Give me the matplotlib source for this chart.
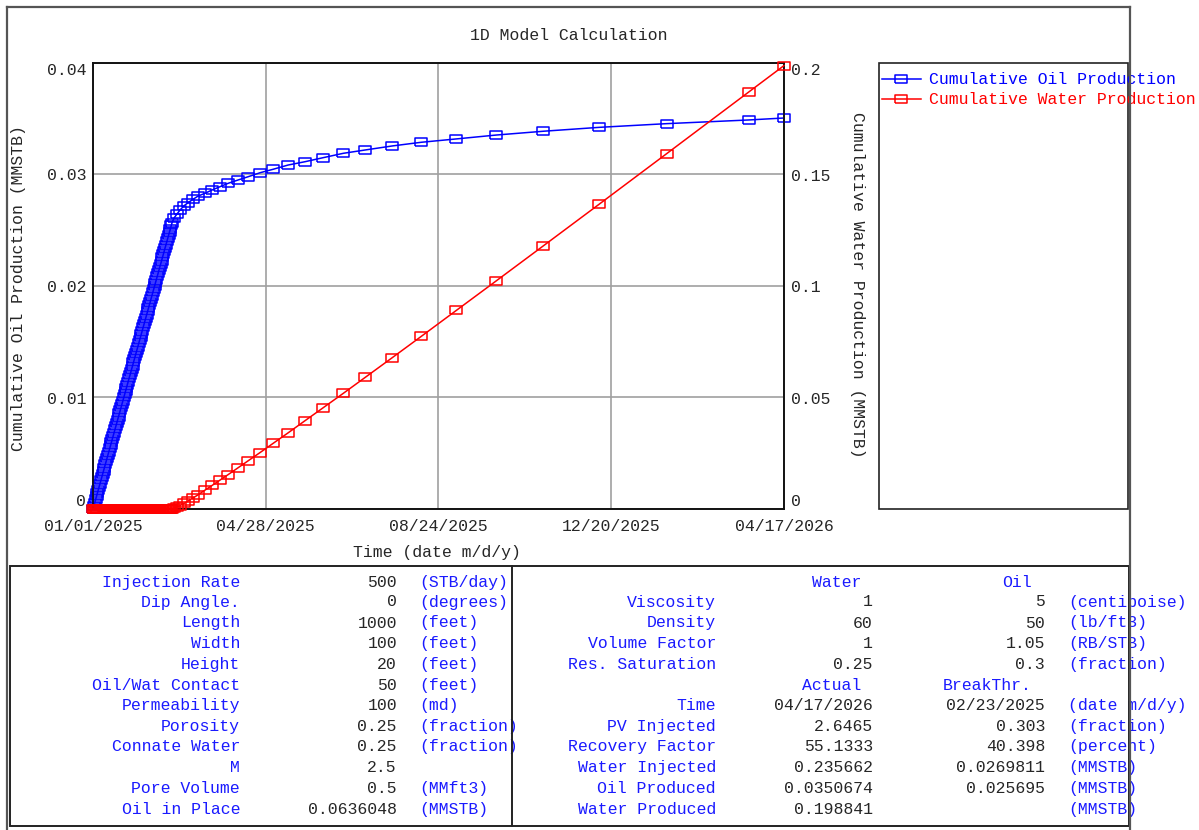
import matplotlib
matplotlib.use('Agg')
import matplotlib.pyplot as plt
from matplotlib.patches import Rectangle
from matplotlib.lines import Line2D

# ---------------- data ----------------
days_pre = [0, 0.6, 1.2, 1.8, 2.4, 3.0, 3.6, 4.2, 4.8, 5.4,
            6.0, 6.6, 7.2, 7.8, 8.4, 9.0, 9.6, 10.2, 10.8, 11.4,
            12.0, 12.6, 13.2, 13.8, 14.4, 15.0, 15.6, 16.2, 16.8, 17.4,
            18.0, 18.6, 19.2, 19.8, 20.4, 21.0, 21.6, 22.2, 22.8, 23.4,
            24.0, 24.6, 25.2, 25.8, 26.4, 27.0, 27.6, 28.2, 28.8, 29.4,
            30.0, 30.6, 31.2, 31.8, 32.4, 33.0, 33.6, 34.2, 34.8, 35.4,
            36.0, 36.6, 37.2, 37.8, 38.4, 39.0, 39.6, 40.2, 40.8, 41.4,
            42.0, 42.6, 43.2, 43.8, 44.4, 45.0, 45.6, 46.2, 46.8, 47.4,
            48.0, 48.6, 49.2, 49.8, 50.4, 51.0, 51.6, 52.2, 52.8, 53.4]
oil_pre = [0, 0.000286, 0.000571, 0.000857, 0.001143, 0.001429, 0.001714, 0.002, 0.002286, 0.002571,
           0.002857, 0.003143, 0.003429, 0.003714, 0.004, 0.004286, 0.004571, 0.004857, 0.005143, 0.005429,
           0.005714, 0.006, 0.006286, 0.006571, 0.006857, 0.007143, 0.007429, 0.007714, 0.008, 0.008286,
           0.008571, 0.008857, 0.009143, 0.009429, 0.009714, 0.01, 0.010286, 0.010571, 0.010857, 0.011143,
           0.011429, 0.011714, 0.012, 0.012286, 0.012571, 0.012857, 0.013143, 0.013429, 0.013714, 0.014,
           0.014286, 0.014571, 0.014857, 0.015143, 0.015429, 0.015714, 0.016, 0.016286, 0.016571, 0.016857,
           0.017143, 0.017429, 0.017714, 0.018, 0.018286, 0.018571, 0.018857, 0.019143, 0.019429, 0.019714,
           0.02, 0.020286, 0.020571, 0.020857, 0.021143, 0.021429, 0.021714, 0.022, 0.022286, 0.022571,
           0.022857, 0.023143, 0.023429, 0.023714, 0.024, 0.024286, 0.024571, 0.024857, 0.025143, 0.025429]
water_pre = [0, 0, 0, 0, 0, 0, 0, 0, 0, 0,
             0, 0, 0, 0, 0, 0, 0, 0, 0, 0,
             0, 0, 0, 0, 0, 0, 0, 0, 0, 0,
             0, 0, 0, 0, 0, 0, 0, 0, 0, 0,
             0, 0, 0, 0, 0, 0, 0, 0, 0, 0,
             0, 0, 0, 0, 0, 0, 0, 0, 0, 0,
             0, 0, 0, 0, 0, 0, 0, 0, 0, 0,
             0, 0, 0, 0, 0, 0, 0, 0, 0, 0,
             0, 0, 0, 0, 0, 0, 0, 0, 0, 0]

days_post = [53.96, 55.3, 57.3, 59.4, 62.1, 64.8, 68.3, 71.7, 76.5, 81.2,
             86.7, 92.2, 99.0, 105.8, 114.0, 122.9, 133.1, 144.7, 157.0, 170.7,
             185.7, 204.1, 223.9, 247.8, 275.1, 307.2, 345.4, 391.2, 447.1, 471.3]
oil_post = [0.025695, 0.02610, 0.02646, 0.02682, 0.02720, 0.02747, 0.02778, 0.02807, 0.02832, 0.02861,
            0.02891, 0.02921, 0.02951, 0.02980, 0.03016, 0.03047, 0.03085, 0.03115, 0.03151, 0.03190,
            0.03220, 0.03256, 0.03289, 0.03319, 0.03354, 0.03388, 0.03423, 0.03456, 0.03489, 0.035067]
water_post = [0.0, 0.000245, 0.000867, 0.001539, 0.00249, 0.003556, 0.004981, 0.006376, 0.008514, 0.010559,
              0.012994, 0.015429, 0.018514, 0.02161, 0.025332, 0.029456, 0.034157, 0.039642, 0.045414, 0.051855,
              0.05904, 0.067862, 0.077415, 0.08905, 0.102333, 0.118026, 0.136758, 0.159312, 0.186915, 0.198841]

x_tick_pos = [0, 117.8, 235.6, 353.5, 471.3]
x_tick_labels = ['01/01/2025', '04/28/2025', '08/24/2025', '12/20/2025', '04/17/2026']
oil_ticks = [0, 0.01, 0.02, 0.03, 0.04]
oil_tick_labels = ['0', '0.01', '0.02', '0.03', '0.04']
water_ticks = [0, 0.05, 0.1, 0.15, 0.2]
water_tick_labels = ['0', '0.05', '0.1', '0.15', '0.2']

series_names = ['Cumulative Oil Production', 'Cumulative Water Production']

left_labels = ['Injection Rate', 'Dip Angle.', 'Length', 'Width', 'Height', 'Oil/Wat Contact',
               'Permeability', 'Porosity', 'Connate Water', 'M', 'Pore Volume', 'Oil in Place']
left_values = ['500', '0', '1000', '100', '20', '50', '100', '0.25', '0.25', '2.5', '0.5', '0.0636048']
left_units = ['(STB/day)', '(degrees)', '(feet)', '(feet)', '(feet)', '(feet)', '(md)',
              '(fraction)', '(fraction)', '', '(MMft3)', '(MMSTB)']

right_labels = ['', 'Viscosity', 'Density', 'Volume Factor', 'Res. Saturation', '',
                'Time', 'PV Injected', 'Recovery Factor', 'Water Injected', 'Oil Produced', 'Water Produced']
right_col1 = ['Water', '1', '60', '1', '0.25', 'Actual',
              '04/17/2026', '2.6465', '55.1333', '0.235662', '0.0350674', '0.198841']
right_col2 = ['Oil', '5', '50', '1.05', '0.3', 'BreakThr.',
              '02/23/2025', '0.303', '40.398', '0.0269811', '0.025695', '']
right_units = ['', '(centipoise)', '(lb/ft3)', '(RB/STB)', '(fraction)', '',
               '(date m/d/y)', '(fraction)', '(percent)', '(MMSTB)', '(MMSTB)', '(MMSTB)']
header_rows = [0, 5]

# ---------------- figure ----------------
W, H = 1199, 830
FONT = 'Liberation Mono'
FS = 11.9
plt.rcParams['font.family'] = [FONT, 'DejaVu Sans Mono']

fig = plt.figure(figsize=(W / 100, H / 100), dpi=100)
fig.patch.set_facecolor('white')


def fx(x):
    return x / W


def fy(y):
    return 1 - y / H


BLUE = '#0000ff'
RED = '#ff0000'
TXT_BLUE = '#1a1aff'
DARK = '#262626'

rect_marker = [(-1.5, -1.0), (1.5, -1.0), (1.5, 1.0), (-1.5, 1.0), (-1.5, -1.0)]

ax = fig.add_axes([fx(93), fy(509), fx(784) - fx(93), fy(63) - fy(509)])
ax2 = ax.twinx()

days = days_pre + days_post
oil = oil_pre + oil_post
water = water_pre + water_post

ax.plot(days, oil, color=BLUE, lw=1.1, marker=rect_marker, ms=9, mfc='none',
        mec=BLUE, mew=1.1, clip_on=False, zorder=3)
ax2.plot(days, water, color=RED, lw=1.1, marker=rect_marker, ms=9, mfc='none',
         mec=RED, mew=1.1, clip_on=False, zorder=3)

ax.set_xlim(0, 471.3)
ax.set_ylim(0, 0.04)
ax2.set_ylim(0, 0.2)
ax.set_xticks(x_tick_pos, x_tick_labels)
ax.set_yticks(oil_ticks, oil_tick_labels)
ax2.set_yticks(water_ticks, water_tick_labels)

for a in (ax, ax2):
    a.tick_params(length=0, pad=5, labelsize=FS, labelcolor=DARK)
    for s in a.spines.values():
        s.set_color('#111111')
        s.set_linewidth(1.2)
ax.tick_params(axis='x', pad=7)

ax.grid(True, color='#a0a0a0', lw=1.2)
ax.set_axisbelow(True)

for a in (ax, ax2):
    labs = a.get_yticklabels()
    labs[0].set_va('bottom')
    labs[-1].set_va('top')

fig.text(fx(569), fy(36), '1D Model Calculation', ha='center', va='center', fontsize=FS, color=DARK)
fig.text(fx(19), fy(288), 'Cumulative Oil Production (MMSTB)', rotation=90,
         ha='center', va='center', fontsize=FS, color=DARK)
fig.text(fx(858), fy(285), 'Cumulative Water Production (MMSTB)', rotation=-90,
         ha='center', va='center', fontsize=FS, color=DARK)
fig.text(fx(437), fy(552), 'Time (date m/d/y)', ha='center', va='center', fontsize=FS, color=DARK)

# legend box
fig.add_artist(Rectangle((fx(879), fy(509)), fx(1128) - fx(879), fy(63) - fy(509),
                         transform=fig.transFigure, fill=False, ec='#222222', lw=1.2))
for i, (name, col) in enumerate(zip(series_names, [BLUE, RED])):
    yy = 79 + 20 * i
    fig.add_artist(Line2D([fx(882), fx(921)], [fy(yy), fy(yy)], color=col, lw=1.1,
                          transform=fig.transFigure))
    fig.add_artist(Line2D([fx(901)], [fy(yy)], color=col, marker=rect_marker, ms=9,
                          mfc='none', mec=col, mew=1.1, transform=fig.transFigure))
    fig.text(fx(929), fy(yy), name, color=col, va='center', ha='left', fontsize=FS)

# table
row_y = [582, 602, 623, 643, 664, 685, 705, 726, 746, 767, 788, 809]
for i, yy in enumerate(row_y):
    fig.text(fx(240), fy(yy), left_labels[i], ha='right', va='center', fontsize=FS, color=TXT_BLUE)
    fig.text(fx(397), fy(yy), left_values[i], ha='right', va='center', fontsize=FS, color=DARK)
    fig.text(fx(419), fy(yy), left_units[i], ha='left', va='center', fontsize=FS, color=TXT_BLUE)
    if i in header_rows:
        fig.text(fx(861), fy(yy), right_col1[i], ha='right', va='center', fontsize=FS, color=TXT_BLUE)
        fig.text(fx(1032), fy(yy), right_col2[i], ha='right', va='center', fontsize=FS, color=TXT_BLUE)
    else:
        fig.text(fx(716), fy(yy), right_labels[i], ha='right', va='center', fontsize=FS, color=TXT_BLUE)
        fig.text(fx(873), fy(yy), right_col1[i], ha='right', va='center', fontsize=FS, color=DARK)
        fig.text(fx(1045), fy(yy), right_col2[i], ha='right', va='center', fontsize=FS, color=DARK)
        fig.text(fx(1068), fy(yy), right_units[i], ha='left', va='center', fontsize=FS, color=TXT_BLUE)

fig.add_artist(Rectangle((fx(10), fy(826)), fx(1129) - fx(10), fy(566) - fy(826),
                         transform=fig.transFigure, fill=False, ec='#222222', lw=1.4, zorder=10))
fig.add_artist(Line2D([fx(512), fx(512)], [fy(566), fy(826)], color='#222222', lw=1.4,
                      transform=fig.transFigure, zorder=10))

# outer frame
frame_kw = dict(color='#555555', lw=1.6, transform=fig.transFigure, zorder=11)
fig.add_artist(Line2D([fx(7), fx(1130)], [fy(7), fy(7)], **frame_kw))
fig.add_artist(Line2D([fx(7), fx(7)], [fy(7), fy(830)], **frame_kw))
fig.add_artist(Line2D([fx(1130), fx(1130)], [fy(7), fy(830)], **frame_kw))

fig.savefig('out.png', dpi=100, facecolor='white')
